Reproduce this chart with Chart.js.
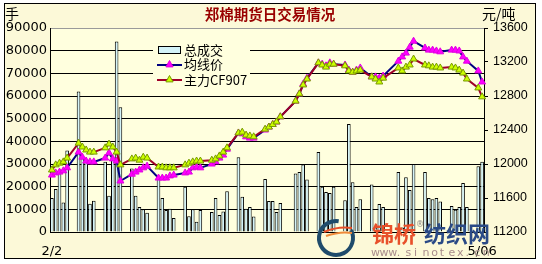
<!DOCTYPE html>
<html>
<head>
<meta charset="utf-8">
<script src="https://cdn.jsdelivr.net/npm/chart.js@4/dist/chart.umd.min.js"></script>
<style>
  html, body { margin: 0; padding: 0; background: #fff; }
  canvas { display: block; }
</style>
</head>
<body>
<canvas id="chart" width="542" height="264"></canvas>
<script>
// trading days (2009)
const tradeDays = [
  '2/2','2/3','2/4','2/5','2/6','2/9','2/10','2/11','2/12','2/13',
  '2/16','2/17','2/18','2/19','2/20','2/23','2/24','2/25','2/26','2/27',
  '3/2','3/3','3/4','3/5','3/6','3/9','3/10','3/11','3/12','3/13',
  '3/16','3/17','3/18','3/19','3/20','3/23','3/24','3/25','3/26','3/27',
  '3/30','3/31','4/1','4/2','4/3','4/7','4/8','4/9','4/10',
  '4/13','4/14','4/15','4/16','4/17','4/20','4/21','4/22','4/23','4/24',
  '4/27','4/28','4/29','4/30','5/4','5/5','5/6','5/7','5/8',
  '5/11','5/12','5/13','5/14','5/15','5/18','5/19','5/20','5/21','5/22',
  '5/25','5/26'
];

// 总成交 (手)
const volume = [
  15000,19000,26000,13000,36000, 62000,33000,31000,12500,13800,
  31000,16000,32000,84000,55000, 28000,16000,11000,10000,8500,
  23500,15000,9700,10300,6200, 20000,7000,10000,4500,9700,
  8800,15000,7500,9000,18000, 33000,15500,10300,11000,6800,
  23400,13700,13700,8800,12800, 25800,26500,29800,23200,
  35300,20000,17600,17200,20000, 14000,47600,22000,11000,14500,
  21000,2000,12300,11000, 26500,2000,24200,18500,30000,
  26500,15000,14500,15000,13500, 11500,9800,11000,21600,11000,
  29000,31000
];

// 均线价 (元/吨)
const avgPrice = [
  11870,11895,11905,11920,11955, 12140,12080,12035,12025,12025,
  12070,12130,12060,12035,11800, 11880,11905,11930,11955,11975,
  11835,11835,11835,11860,11870, 11895,11905,11955,11965,11955,
  12000,12025,12070,12105,12175, 12365,12355,12320,12305,12305,
  12400,12435,12465,12495,12555, 12740,12825,12940,13010,
  13190,13175,13155,13190,13175, 13165,13105,13080,13105,13130,
  13025,13025,13010,13035, 13210,13260,13305,13375,13445,
  13365,13340,13340,13330,13320, 13340,13340,13330,13260,13210,
  13095,12965
];

// 主力CF907 (元/吨)
const mainPrice = [
  11930,11990,12010,12025,12070, 12245,12200,12165,12140,12140,
  12190,12235,12200,12140,11990, 12060,12070,12045,12080,12070,
  11965,11965,11955,11955,11955, 11990,12010,12025,12035,12035,
  12045,12060,12095,12140,12190, 12365,12375,12340,12330,12320,
  12410,12435,12465,12495,12555, 12740,12825,12930,13000,
  13190,13165,13140,13175,13175, 13155,13095,13080,13095,13105,
  13025,13000,12965,13010, 13130,13095,13140,13165,13235,
  13165,13155,13140,13140,13130, 13140,13130,13105,13070,13000,
  12895,12790
];

const xTickLabels = ['2/2', '5/06'];

// calendar days on the category axis, weekends and holidays stay empty
const categories = [];
for (let d = new Date(2009, 1, 2); d <= new Date(2009, 4, 26); d.setDate(d.getDate() + 1)) {
  categories.push((d.getMonth() + 1) + '/' + d.getDate());
}

const outerBg = '#FCF9D8';
const plotBg = '#FFFFDE';

function triangle(ctx, cx, cy, r, fill, stroke) {
  ctx.beginPath();
  ctx.moveTo(cx, cy - r);
  ctx.lineTo(cx - r * 0.9, cy + r * 0.6);
  ctx.lineTo(cx + r * 0.9, cy + r * 0.6);
  ctx.closePath();
  ctx.fillStyle = fill;
  ctx.fill();
  ctx.strokeStyle = stroke;
  ctx.lineWidth = 1;
  ctx.stroke();
}

const framePlugin = {
  id: 'frame',
  beforeDraw(chart) {
    const ctx = chart.ctx, a = chart.chartArea;
    ctx.save();
    ctx.fillStyle = '#fff';
    ctx.fillRect(0, 0, chart.width, chart.height);
    ctx.fillStyle = outerBg;
    ctx.fillRect(4.5, 3.5, 531, 255);
    ctx.strokeStyle = '#000';
    ctx.lineWidth = 1;
    ctx.strokeRect(4.5, 3.5, 531, 255);
    ctx.fillStyle = plotBg;
    ctx.fillRect(a.left, a.top, a.right - a.left, a.bottom - a.top);
    ctx.restore();
  }
};

const legendPlugin = {
  id: 'boxLegend',
  afterDatasetsDraw(chart) {
    const ctx = chart.ctx, ds = chart.data.datasets;
    ctx.save();
    ctx.fillStyle = plotBg;
    ctx.fillRect(153, 40, 97, 48);
    // 总成交
    ctx.fillStyle = ds[0].backgroundColor;
    ctx.fillRect(158.5, 46.5, 22, 7);
    ctx.strokeStyle = '#000';
    ctx.lineWidth = 1;
    ctx.strokeRect(158.5, 46.5, 22, 7);
    // 均线价
    ctx.strokeStyle = ds[1].borderColor;
    ctx.lineWidth = 2;
    ctx.beginPath(); ctx.moveTo(157, 65); ctx.lineTo(182, 65); ctx.stroke();
    triangle(ctx, 169.5, 64.5, 4, ds[1].pointBackgroundColor, ds[1].pointBorderColor);
    // 主力
    ctx.strokeStyle = ds[2].borderColor;
    ctx.lineWidth = 2;
    ctx.beginPath(); ctx.moveTo(157, 80); ctx.lineTo(182, 80); ctx.stroke();
    triangle(ctx, 169.5, 79.5, 4, ds[2].pointBackgroundColor, ds[2].pointBorderColor);

    ctx.fillStyle = '#000';
    ctx.font = '13px "Noto Sans CJK SC"';
    ctx.textBaseline = 'middle';
    ctx.textAlign = 'left';
    ctx.fillText(ds[0].label, 184, 50);
    ctx.fillText(ds[1].label, 184, 64);
    ctx.fillText(ds[2].label, 184, 80);
    ctx.restore();
  }
};

const textPlugin = {
  id: 'texts',
  afterDraw(chart) {
    const ctx = chart.ctx;
    ctx.save();
    ctx.textBaseline = 'middle';
    ctx.textAlign = 'center';
    ctx.fillStyle = '#990000';
    ctx.font = 'bold 14.5px "Noto Sans CJK SC"';
    ctx.fillText('郑棉期货日交易情况', 270, 14);

    ctx.fillStyle = '#000';
    ctx.textAlign = 'left';
    ctx.font = '14px "Noto Sans CJK SC"';
    ctx.fillText('手', 5, 14);
    ctx.fillText('元/吨', 482, 14);

    // watermark of the source site
    ctx.lineWidth = 4;
    ctx.strokeStyle = '#1F4B6B';
    ctx.beginPath();
    ctx.arc(336, 238, 17, Math.PI * 1.85, Math.PI * 1.55);
    ctx.stroke();
    ctx.lineWidth = 2;
    ctx.strokeStyle = '#E8502A';
    ctx.beginPath();
    ctx.moveTo(324, 232); ctx.quadraticCurveTo(338, 226, 352, 228);
    ctx.stroke();
    ctx.strokeStyle = '#F08A3A';
    ctx.beginPath();
    ctx.moveTo(326, 236); ctx.quadraticCurveTo(340, 231, 352, 233);
    ctx.stroke();

    ctx.font = 'bold 22px "Noto Sans CJK SC"';
    ctx.fillStyle = '#E8502A';
    ctx.fillText('锦桥', 372, 234);
    ctx.fillStyle = '#2A4A86';
    ctx.fillText('纺织网', 424, 234);
    ctx.fillStyle = '#888';
    ctx.font = '8px "DejaVu Sans"';
    ctx.fillText('®', 416, 225);

    ctx.fillStyle = '#A88C8C';
    ctx.font = '11px "DejaVu Sans"';
    const site = 'www.sinotex.cn';
    for (let i = 0; i < site.length; i++) {
      ctx.fillText(site[i], 371 + i * 8.6, 253);
    }
    ctx.restore();
  }
};

const ctx = document.getElementById('chart');

new Chart(ctx, {
  data: {
    labels: categories,
    datasets: [
      {
        type: 'bar',
        label: '总成交',
        data: tradeDays.map((t, i) => ({ x: t, y: volume[i] })),
        yAxisID: 'y',
        backgroundColor: '#D3F3F8',
        borderColor: '#000',
        borderWidth: 1,
        barPercentage: 0.95,
        categoryPercentage: 1,
        order: 3
      },
      {
        type: 'line',
        label: '均线价',
        data: tradeDays.map((t, i) => ({ x: t, y: avgPrice[i] })),
        yAxisID: 'y1',
        borderColor: '#000080',
        borderWidth: 2,
        pointStyle: 'triangle',
        pointRadius: 4,
        pointBackgroundColor: '#FF00FF',
        pointBorderColor: '#E000E0',
        pointBorderWidth: 1,
        tension: 0,
        order: 2
      },
      {
        type: 'line',
        label: '主力CF907',
        data: tradeDays.map((t, i) => ({ x: t, y: mainPrice[i] })),
        yAxisID: 'y1',
        borderColor: '#A00028',
        borderWidth: 2,
        pointStyle: 'triangle',
        pointRadius: 4,
        pointBackgroundColor: '#CCFF00',
        pointBorderColor: '#789A00',
        pointBorderWidth: 1,
        tension: 0,
        order: 1
      }
    ]
  },
  options: {
    responsive: false,
    animation: false,
    devicePixelRatio: 1,
    layout: { padding: { left: 4, right: 4, top: 28, bottom: 6 } },
    plugins: {
      legend: { display: false },
      tooltip: { enabled: false }
    },
    scales: {
      x: {
        type: 'category',
        offset: true,
        grid: { display: false, drawTicks: false },
        border: { color: '#000' },
        ticks: {
          autoSkip: false,
          maxRotation: 0,
          minRotation: 0,
          padding: 12,
          color: '#000',
          font: { family: 'DejaVu Sans', size: 13 },
          callback: (v, i, ticks) => i === 0 ? xTickLabels[0] : (i === ticks.length - 1 ? xTickLabels[1] : '')
        },
        afterFit: s => { s.height = 26; }
      },
      y: {
        position: 'left',
        min: 0,
        max: 90000,
        grid: {
          color: c => c.tick && c.tick.value === 90000 ? '#9A9A9A' : '#000',
          drawTicks: false
        },
        border: { color: '#000' },
        ticks: {
          stepSize: 10000,
          padding: 3,
          color: '#000',
          font: { family: 'DejaVu Sans', size: 13 },
          callback: v => String(v)
        },
        afterFit: s => { s.width = 46; }
      },
      y1: {
        position: 'right',
        min: 11200,
        max: 13600,
        grid: { drawOnChartArea: false, tickLength: 4, color: '#000' },
        border: { color: '#000' },
        ticks: {
          stepSize: 200,
          padding: 5,
          color: '#000',
          font: { family: 'Liberation Sans', size: 12.5 },
          callback: v => String(v)
        },
        afterFit: s => { s.width = 54; }
      }
    }
  },
  plugins: [framePlugin, legendPlugin, textPlugin]
});
</script>
</body>
</html>
